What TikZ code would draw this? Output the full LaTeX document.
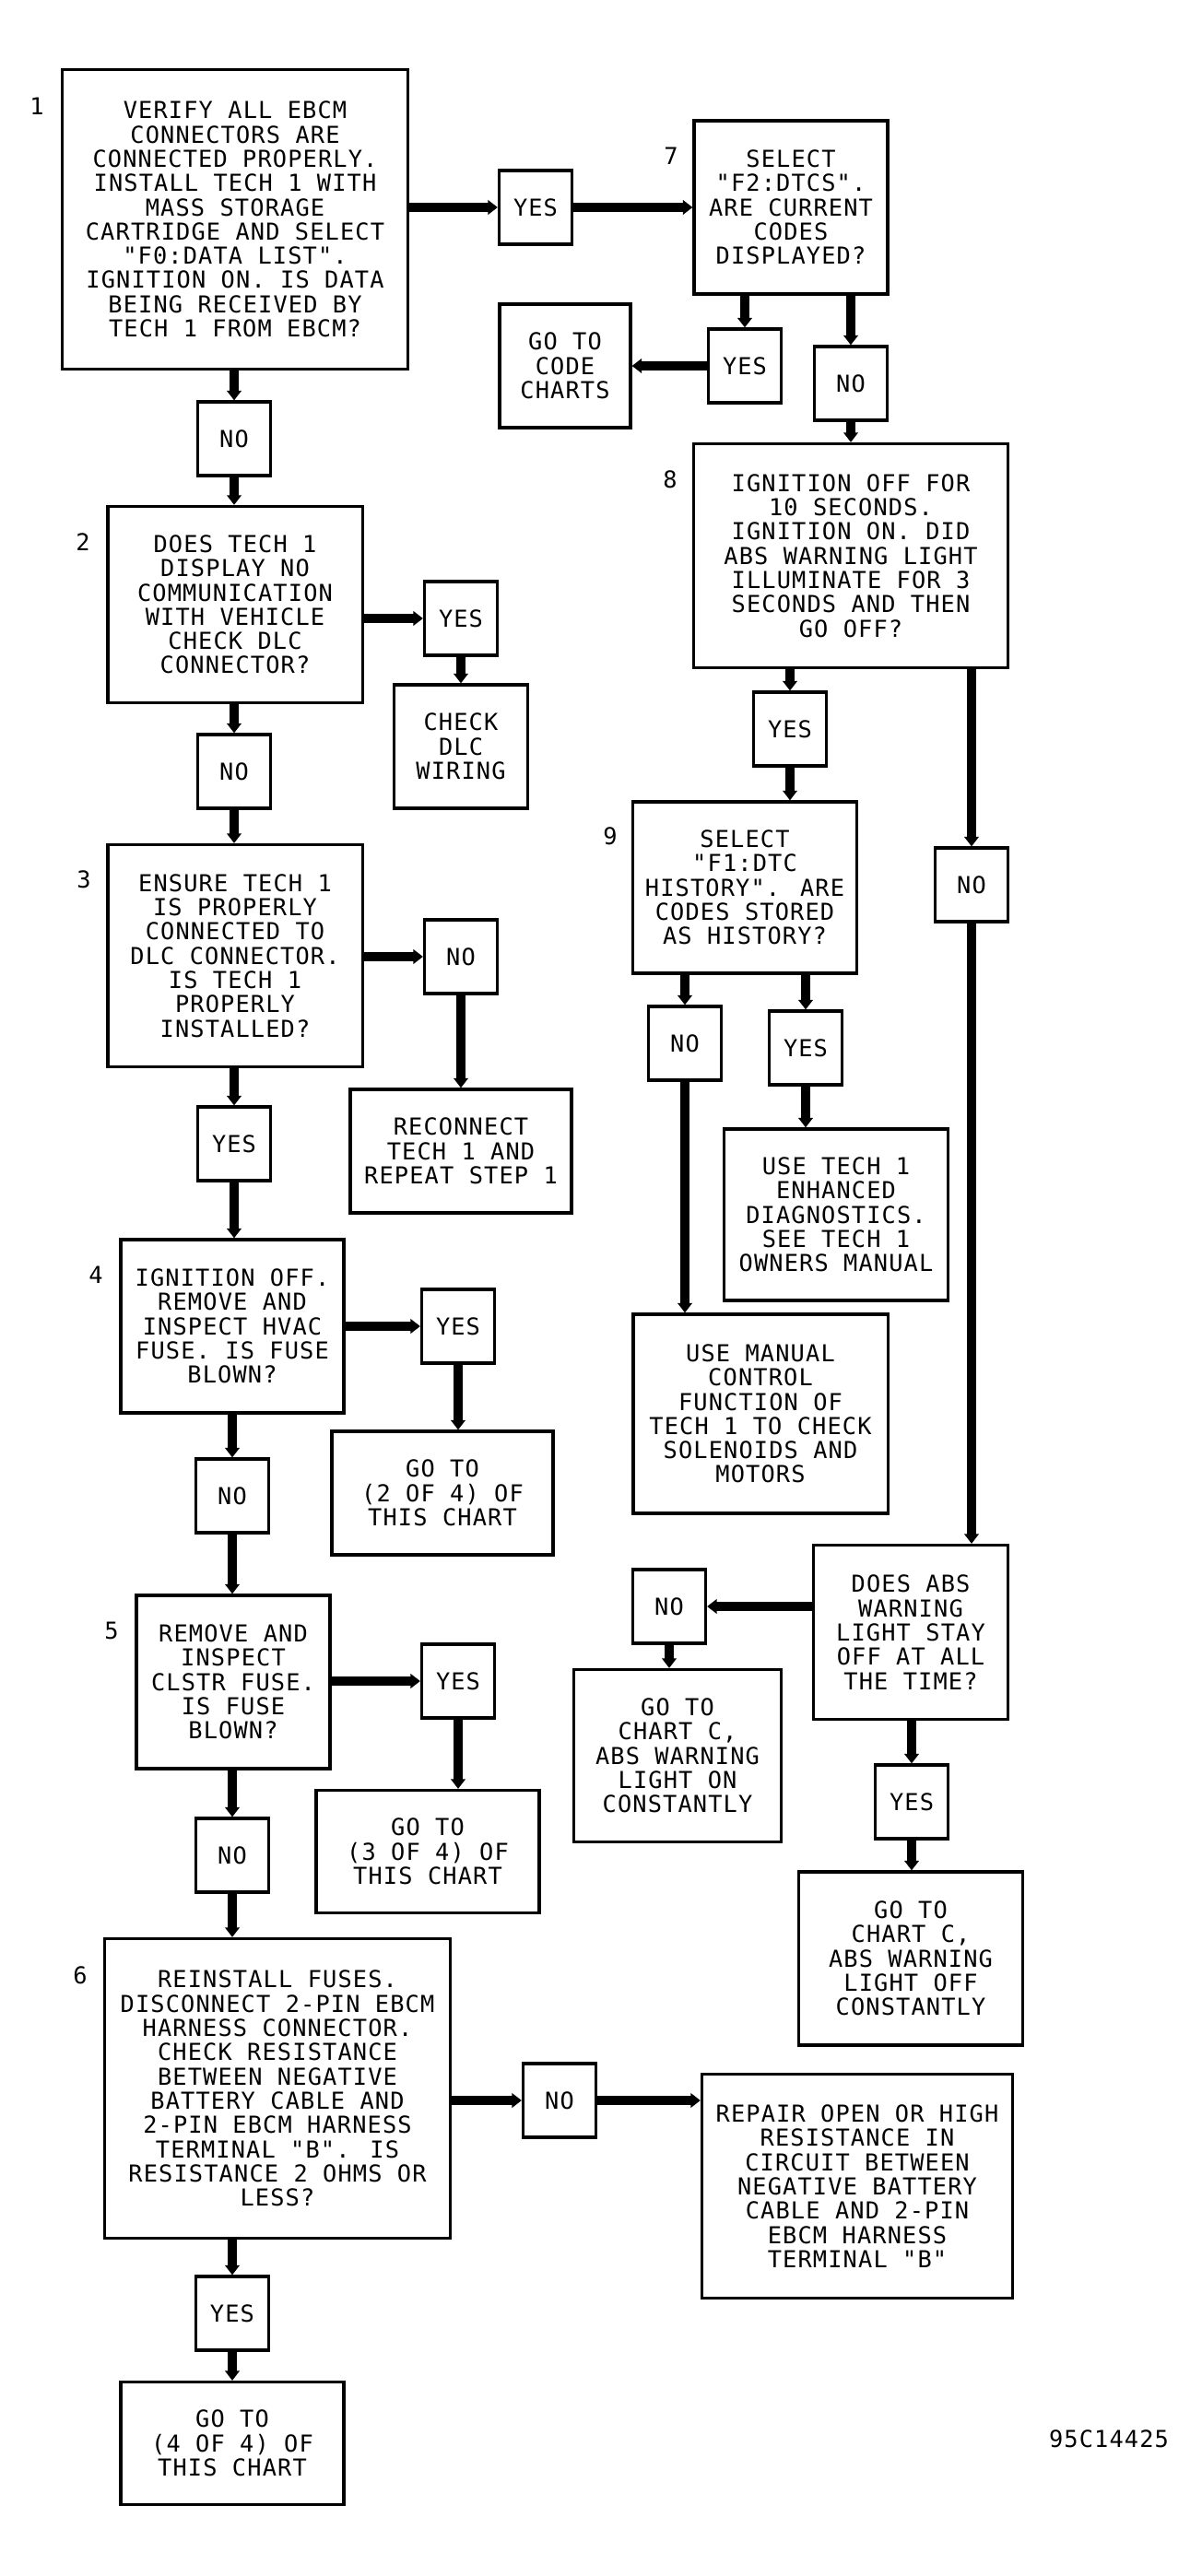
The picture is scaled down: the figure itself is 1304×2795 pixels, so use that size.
\documentclass[tikz,border=0pt]{standalone}
\usepackage{fontspec}
\newfontfamily\cadfont[LetterSpace=4.5]{DejaVu Sans Mono}
\usepackage{tikz}
\usetikzlibrary{arrows.meta}

\tikzset{
  stepbox/.style 2 args={draw, line width=0.9pt, inner sep=0pt, align=center,
    minimum width=#1cm, minimum height=#2cm},
  answer/.style={stepbox={0.79}{0.80}},
  stepno/.style={inner sep=0pt},
  flow/.style={line width=2.6pt, -{Triangle[length=3pt,width=4.4pt]}}
}

\begin{document}
\begin{tikzpicture}[x=0.01cm, y=-0.01cm, font=\cadfont\fontsize{7.2}{7.48}\selectfont]
		\useasboundingbox (0,0) rectangle (1304,2795);
		% left column
		\node[stepbox={3.74}{3.25}] (q1) at (255,238) {VERIFY ALL EBCM\\CONNECTORS ARE\\CONNECTED PROPERLY.\\INSTALL TECH 1 WITH\\MASS STORAGE\\CARTRIDGE AND SELECT\\"F0:DATA LIST".\\IGNITION ON. IS DATA\\BEING RECEIVED BY\\TECH 1 FROM EBCM?};
		\node[answer] (no1) at (254,476) {NO};
		\node[stepbox={2.76}{2.13}] (q2) at (255,656) {DOES TECH 1\\DISPLAY NO\\COMMUNICATION\\WITH VEHICLE\\CHECK DLC\\CONNECTOR?};
		\node[answer] (yes2) at (500,671) {YES};
		\node[stepbox={1.45}{1.34}] (dlc) at (500,810) {CHECK\\DLC\\WIRING};
		\node[answer] (no2) at (254,837) {NO};
		\node[stepbox={2.76}{2.41}] (q3) at (255,1037) {ENSURE TECH 1\\IS PROPERLY\\CONNECTED TO\\DLC CONNECTOR.\\IS TECH 1\\PROPERLY\\INSTALLED?};
		\node[answer] (no3) at (500,1038) {NO};
		\node[stepbox={2.40}{1.34}] (recon) at (500,1249) {RECONNECT\\TECH 1 AND\\REPEAT STEP 1};
		\node[answer] (yes3) at (254,1241) {YES};
		\node[stepbox={2.42}{1.88}] (q4) at (252,1439) {IGNITION OFF.\\REMOVE AND\\INSPECT HVAC\\FUSE. IS FUSE\\BLOWN?};
		\node[answer] (yes4) at (497,1439) {YES};
		\node[stepbox={2.40}{1.34}] (go24) at (480,1620) {GO TO\\(2 OF 4) OF\\THIS CHART};
		\node[answer] (no4) at (252,1623) {NO};
		\node[stepbox={2.10}{1.88}] (q5) at (253,1825) {REMOVE AND\\INSPECT\\CLSTR FUSE.\\IS FUSE\\BLOWN?};
		\node[answer] (yes5) at (497,1824) {YES};
		\node[stepbox={2.42}{1.33}] (go34) at (464,2009) {GO TO\\(3 OF 4) OF\\THIS CHART};
		\node[answer] (no5) at (252,2013) {NO};
		\node[stepbox={3.74}{3.25}] (q6) at (301,2266) {REINSTALL FUSES.\\DISCONNECT 2-PIN EBCM\\HARNESS CONNECTOR.\\CHECK RESISTANCE\\BETWEEN NEGATIVE\\BATTERY CABLE AND\\2-PIN EBCM HARNESS\\TERMINAL "B". IS\\RESISTANCE 2 OHMS OR\\LESS?};
		\node[answer] (no6) at (607,2279) {NO};
		\node[stepbox={3.37}{2.43}] (repair) at (930,2372) {REPAIR OPEN OR HIGH\\RESISTANCE IN\\CIRCUIT BETWEEN\\NEGATIVE BATTERY\\CABLE AND 2-PIN\\EBCM HARNESS\\TERMINAL "B"};
		\node[answer] (yes6) at (252,2510) {YES};
		\node[stepbox={2.42}{1.33}] (go44) at (252,2651) {GO TO\\(4 OF 4) OF\\THIS CHART};
		% right column
		\node[answer] (yes1) at (581,225) {YES};
		\node[stepbox={2.10}{1.88}] (q7) at (858,225) {SELECT\\"F2:DTCS".\\ARE CURRENT\\CODES\\DISPLAYED?};
		\node[answer] (yes7) at (808,397) {YES};
		\node[stepbox={1.42}{1.34}] (codes) at (613,397) {GO TO\\CODE\\CHARTS};
		\node[answer] (no7) at (923,416) {NO};
		\node[stepbox={3.41}{2.43}] (q8) at (923,603) {IGNITION OFF FOR\\10 SECONDS.\\IGNITION ON. DID\\ABS WARNING LIGHT\\ILLUMINATE FOR 3\\SECONDS AND THEN\\GO OFF?};
		\node[answer] (yes8) at (857,791) {YES};
		\node[stepbox={2.43}{1.86}] (q9) at (808,963) {SELECT\\"F1:DTC\\HISTORY". ARE\\CODES STORED\\AS HISTORY?};
		\node[answer] (no8) at (1054,960) {NO};
		\node[answer] (no9) at (743,1132) {NO};
		\node[answer] (yes9) at (874,1137) {YES};
		\node[stepbox={2.43}{1.86}] (enh) at (907,1318) {USE TECH 1\\ENHANCED\\DIAGNOSTICS.\\SEE TECH 1\\OWNERS MANUAL};
		\node[stepbox={2.76}{2.16}] (manual) at (825,1534) {USE MANUAL\\CONTROL\\FUNCTION OF\\TECH 1 TO CHECK\\SOLENOIDS AND\\MOTORS};
		\node[stepbox={2.11}{1.89}] (abs) at (988,1771) {DOES ABS\\WARNING\\LIGHT STAY\\OFF AT ALL\\THE TIME?};
		\node[answer] (noabs) at (726,1743) {NO};
		\node[stepbox={2.25}{1.87}] (chon) at (735,1905) {GO TO\\CHART C,\\ABS WARNING\\LIGHT ON\\CONSTANTLY};
		\node[answer] (yesabs) at (989,1955) {YES};
		\node[stepbox={2.43}{1.88}] (choff) at (988,2125) {GO TO\\CHART C,\\ABS WARNING\\LIGHT OFF\\CONSTANTLY};
		% step numbers
		\node[stepno] (n1) at (40,115) {1};
		\node[stepno] (n2) at (90,588) {2};
		\node[stepno] (n3) at (91,954) {3};
		\node[stepno] (n4) at (104,1383) {4};
		\node[stepno] (n5) at (121,1769) {5};
		\node[stepno] (n6) at (87,2143) {6};
		\node[stepno] (n7) at (728,169) {7};
		\node[stepno] (n8) at (727,520) {8};
		\node[stepno] (n9) at (662,907) {9};
		\node[stepno] (fig) at (1203,2646) {95C14425};
		%
		\path[flow]
		(q1.east |- yes1) edge (yes1.west)
		(yes1.east) edge (yes1 -| q7.west)
		(q7.south -| yes7) edge (yes7.north)
		(q7.south -| no7) edge (no7.north)
		(yes7.west) edge (yes7 -| codes.east)
		(no7.south) edge (no7 |- q8.north)
		(q1.south -| no1) edge (no1.north)
		(no1.south) edge (no1 |- q2.north)
		(q2.east |- yes2) edge (yes2.west)
		(yes2.south) edge (yes2 |- dlc.north)
		(q2.south -| no2) edge (no2.north)
		(no2.south) edge (no2 |- q3.north)
		(q3.east |- no3) edge (no3.west)
		(no3.south) edge (no3 |- recon.north)
		(q3.south -| yes3) edge (yes3.north)
		(yes3.south) edge (yes3 |- q4.north)
		(q4.east |- yes4) edge (yes4.west)
		(yes4.south) edge (yes4 |- go24.north)
		(q4.south -| no4) edge (no4.north)
		(no4.south) edge (no4 |- q5.north)
		(q5.east |- yes5) edge (yes5.west)
		(yes5.south) edge (yes5 |- go34.north)
		(q5.south -| no5) edge (no5.north)
		(no5.south) edge (no5 |- q6.north)
		(q6.east |- no6) edge (no6.west)
		(no6.east) edge (no6 -| repair.west)
		(q6.south -| yes6) edge (yes6.north)
		(yes6.south) edge (yes6 |- go44.north)
		(q8.south -| yes8) edge (yes8.north)
		(yes8.south) edge (yes8 |- q9.north)
		(q8.south -| no8) edge (no8.north)
		(no8.south) edge (no8 |- abs.north)
		(q9.south -| no9) edge (no9.north)
		(no9.south) edge (no9 |- manual.north)
		(q9.south -| yes9) edge (yes9.north)
		(yes9.south) edge (yes9 |- enh.north)
		(abs.west |- noabs) edge (noabs.east)
		(noabs.south) edge (noabs |- chon.north)
		(abs.south -| yesabs) edge (yesabs.north)
		(yesabs.south) edge (yesabs |- choff.north);
	\end{tikzpicture}
\end{document}
